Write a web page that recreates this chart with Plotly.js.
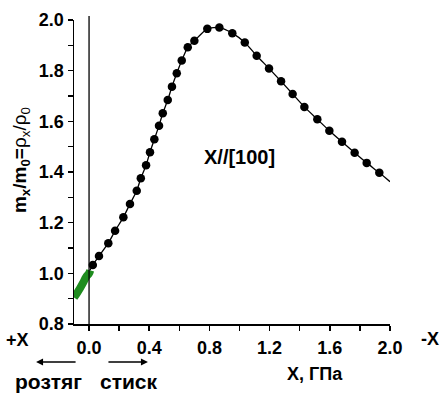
<!DOCTYPE html>
<html>
<head>
<meta charset="utf-8">
<script src="https://cdn.plot.ly/plotly-3.0.1.min.js"></script>
<style>html,body{margin:0;padding:0;background:#fff;}#chart{width:441px;height:394px;}</style>
</head>
<body>
<div id="chart"></div>
<script>
// Black series (compression, X//[100])
const pointX = [0.025,0.066,0.128,0.173,0.228,0.272,0.317,0.344,0.379,0.405,0.434,0.465,0.490,0.523,0.551,0.583,0.616,0.656,0.700,0.786,0.866,0.952,1.035,1.114,1.196,1.276,1.353,1.431,1.517,1.597,1.681,1.765,1.845,1.929];
const pointY = [1.033,1.068,1.119,1.168,1.221,1.274,1.326,1.375,1.427,1.478,1.529,1.583,1.632,1.684,1.737,1.790,1.840,1.892,1.918,1.965,1.970,1.948,1.911,1.859,1.809,1.758,1.708,1.657,1.608,1.563,1.519,1.476,1.436,1.397];
// Line ends beyond the last marker
const lineStartX = [0.006];
const lineStartY = [1.012];
const lineEndX = [2.0];
const lineEndY = [1.362];
// Green series (tension)
const greenX = [-0.1,-0.08,-0.06,-0.04,-0.02,0.0,0.008];
const greenY = [0.905,0.922,0.941,0.962,0.985,1.0,1.012];
// Axis ticks
const xTicks = [0.0,0.4,0.8,1.2,1.6,2.0];
const xTickLabels = ["0.0","0.4","0.8","1.2","1.6","2.0"];
const yTicks = [0.8,1.0,1.2,1.4,1.6,1.8,2.0];
const yTickLabels = ["0.8","1.0","1.2","1.4","1.6","1.8","2.0"];

const FONT = '"Liberation Sans", Arial, sans-serif';
const bold = s => '<b>' + s + '</b>';

const traces = [
  {
    x: greenX, y: greenY, mode: 'lines', type: 'scatter',
    line: {color: '#1e8c1e', width: 8, shape: 'spline'},
    hoverinfo: 'skip', showlegend: false
  },
  {
    x: lineStartX.concat(pointX, lineEndX), y: lineStartY.concat(pointY, lineEndY),
    mode: 'lines', type: 'scatter',
    line: {color: '#000', width: 1.3, shape: 'spline', smoothing: 0.6},
    hoverinfo: 'skip', showlegend: false
  },
  {
    x: pointX, y: pointY, mode: 'markers', type: 'scatter',
    marker: {color: '#000', size: 8.5},
    showlegend: false
  }
];

const ann = (text, x, y, size, angle) => ({text: text, xref: 'paper', yref: 'paper', x: x, y: y,
  xanchor: 'center', yanchor: 'middle', showarrow: false, textangle: angle || 0, font: {family: FONT, size: size}});

const layout = {
  width: 441, height: 394,
  margin: {l: 74, r: 51, t: 20, b: 70},
  paper_bgcolor: '#fff', plot_bgcolor: '#fff',
  font: {family: FONT, size: 18, color: '#000'},
  showlegend: false,
  xaxis: {
    range: [-0.1, 2.0], showgrid: false, zeroline: false,
    showline: true, linecolor: '#000', linewidth: 1.5,
    ticks: 'outside', ticklen: 5, tickwidth: 1.5, tickcolor: '#000',
    tickvals: xTicks, ticktext: xTickLabels.map(bold),
    ticklabelstandoff: 2,
    tickfont: {family: FONT, size: 18},
    minor: {dtick: 0.2, tick0: 0, ticks: 'outside', ticklen: 5, tickwidth: 1.5, tickcolor: '#000', showgrid: false},
    fixedrange: true
  },
  yaxis: {
    range: [0.8, 2.0], showgrid: false, zeroline: false,
    showline: true, linecolor: '#000', linewidth: 1.5,
    ticks: 'outside', ticklen: 5, tickwidth: 1.5, tickcolor: '#000',
    tickvals: yTicks, ticktext: yTickLabels.map(bold),
    tickfont: {family: FONT, size: 18},
    minor: {dtick: 0.1, tick0: 0, ticks: 'outside', ticklen: 5, tickwidth: 1.5, tickcolor: '#000', showgrid: false},
    fixedrange: true
  },
  shapes: [
    {type: 'line', xref: 'x', yref: 'paper', x0: 0, x1: 0, y0: 0, y1: 1.013, line: {color: '#000', width: 1.3}}
  ],
  annotations: [
    ann('<b>m<sub>x</sub>/m<sub>0</sub>=</b>ρ<sub>x</sub>/ρ<sub>0</sub>', -0.168, 0.539, 19, -90),
    ann(bold('X//[100]'), 0.525, 0.549, 20),
    ann(bold('+X'), -0.180, -0.053, 18),
    ann(bold('-X'), 1.127, -0.049, 18),
    ann(bold('X, ГПа'), 0.763, -0.164, 18),
    ann(bold('розтяг'), -0.082, -0.19, 21),
    ann(bold('стиск'), 0.174, -0.19, 21),
    {text: '', xref: 'paper', yref: 'paper', x: -0.120, y: -0.125, ax: 41, ay: 0, showarrow: true, arrowhead: 2, arrowsize: 1, arrowwidth: 1.4, arrowcolor: '#000'},
    {text: '', xref: 'paper', yref: 'paper', x: 0.234, y: -0.125, ax: -41, ay: 0, showarrow: true, arrowhead: 2, arrowsize: 1, arrowwidth: 1.4, arrowcolor: '#000'}
  ]
};

Plotly.newPlot('chart', traces, layout, {displayModeBar: false, staticPlot: true});
</script>
</body>
</html>
